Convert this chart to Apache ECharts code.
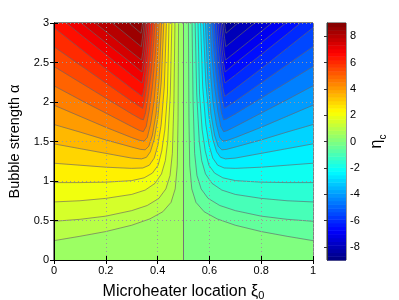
<!DOCTYPE html>
<html><head><meta charset="utf-8">
<script src="https://cdn.jsdelivr.net/npm/echarts@6/dist/echarts.min.js"></script>
<style>html,body{margin:0;padding:0;background:#fff}#c{width:399px;height:300px}</style>
</head><body><div id="c"></div>
<script>
// ---- data ----
const xTicks = [0, 0.2, 0.4, 0.6, 0.8, 1];
const yTicks = [0, 0.5, 1, 1.5, 2, 2.5, 3];
const cbTicks = [-8, -6, -4, -2, 0, 2, 4, 6, 8];
const levels = [0.5, 1, 1.5, 2, 2.5, 3, 3.5, 4, 4.5, 5, 5.5, 6, 6.5, 7, 7.5, 8, 8.5];
const peakLevel = 8.7;

// left half contour lines (eta_c = +level), points [xi0, alpha]
const c05 = [[0,0.245],[0.1,0.30],[0.2,0.36],[0.3,0.44],[0.37,0.52],[0.42,0.61],[0.452,0.73],[0.468,0.9],[0.476,1.2],[0.479,1.8],[0.481,3]];
const c10 = [[0,0.49],[0.1,0.515],[0.2,0.555],[0.3,0.625],[0.36,0.69],[0.405,0.78],[0.432,0.9],[0.448,1.07],[0.457,1.35],[0.463,2],[0.467,3]];
const c15 = [[0,0.735],[0.1,0.75],[0.2,0.78],[0.3,0.83],[0.352,0.885],[0.39,0.97],[0.415,1.09],[0.43,1.26],[0.439,1.5],[0.449,2.1],[0.455,3]];
const c20 = [[0,0.98],[0.1,0.98],[0.2,0.985],[0.3,1.005],[0.348,1.04],[0.38,1.1],[0.402,1.2],[0.416,1.38],[0.428,1.65],[0.438,2.1],[0.444,3]];
const c25 = [[0,1.225],[0.1,1.2],[0.2,1.175],[0.3,1.16],[0.343,1.165],[0.368,1.2],[0.387,1.29],[0.401,1.45],[0.414,1.72],[0.426,2.2],[0.434,3]];
const c30 = [[0,1.47],[0.1,1.41],[0.2,1.35],[0.3,1.29],[0.338,1.28],[0.357,1.3],[0.372,1.37],[0.387,1.53],[0.401,1.8],[0.414,2.25],[0.424,3]];
const c35 = [[0,1.715],[0.1,1.62],[0.2,1.52],[0.3,1.43],[0.335,1.4],[0.352,1.395],[0.366,1.44],[0.38,1.58],[0.394,1.85],[0.406,2.3],[0.415,3]];
const c40 = [[0,1.96],[0.1,1.82],[0.2,1.68],[0.3,1.55],[0.33,1.515],[0.348,1.505],[0.36,1.55],[0.373,1.72],[0.386,2.0],[0.398,2.45],[0.406,3]];
const c45 = [[0,2.205],[0.1,2.03],[0.2,1.86],[0.3,1.69],[0.33,1.64],[0.345,1.625],[0.356,1.69],[0.368,1.9],[0.38,2.2],[0.391,2.6],[0.398,3]];
const c50 = [[0,2.45],[0.1,2.25],[0.2,2.05],[0.3,1.85],[0.335,1.785],[0.345,1.775],[0.353,1.86],[0.364,2.08],[0.375,2.38],[0.384,2.72],[0.39,3]];
const c55 = [[0,2.70],[0.1,2.47],[0.2,2.24],[0.3,2.01],[0.342,1.92],[0.35,2.03],[0.36,2.25],[0.37,2.52],[0.377,2.78],[0.382,3]];
const c60 = [[0,2.94],[0.1,2.68],[0.2,2.42],[0.3,2.17],[0.341,2.07],[0.348,2.18],[0.357,2.4],[0.365,2.66],[0.37,2.85],[0.374,3]];
const c65 = [[0.048,3],[0.1,2.86],[0.2,2.6],[0.3,2.34],[0.34,2.24],[0.346,2.35],[0.354,2.55],[0.361,2.78],[0.367,3]];
const c70 = [[0.105,3],[0.2,2.75],[0.3,2.49],[0.339,2.38],[0.345,2.49],[0.351,2.66],[0.356,2.84],[0.36,3]];
const c75 = [[0.159,3],[0.25,2.76],[0.338,2.53],[0.343,2.63],[0.348,2.8],[0.354,3]];
const c80 = [[0.225,3],[0.3,2.80],[0.337,2.70],[0.341,2.8],[0.345,2.9],[0.348,3]];
const c85 = [[0.29,3],[0.336,2.87],[0.339,2.93],[0.342,3]];

// right half contour lines (eta_c = -level)
const r05 = [[1,0.245],[0.9,0.30],[0.8,0.36],[0.7,0.44],[0.63,0.52],[0.58,0.61],[0.548,0.73],[0.532,0.9],[0.524,1.2],[0.521,1.8],[0.519,3]];
const r10 = [[1,0.49],[0.9,0.515],[0.8,0.555],[0.7,0.625],[0.64,0.69],[0.595,0.78],[0.568,0.9],[0.552,1.07],[0.543,1.35],[0.537,2],[0.533,3]];
const r15 = [[1,0.735],[0.9,0.75],[0.8,0.78],[0.7,0.83],[0.648,0.885],[0.61,0.97],[0.585,1.09],[0.57,1.26],[0.561,1.5],[0.551,2.1],[0.545,3]];
const r20 = [[1,0.98],[0.9,0.98],[0.8,0.985],[0.7,1.005],[0.652,1.04],[0.62,1.1],[0.598,1.2],[0.584,1.38],[0.572,1.65],[0.562,2.1],[0.556,3]];
const r25 = [[1,1.225],[0.9,1.2],[0.8,1.175],[0.7,1.16],[0.657,1.165],[0.632,1.2],[0.613,1.29],[0.599,1.45],[0.586,1.72],[0.574,2.2],[0.566,3]];
const r30 = [[1,1.47],[0.9,1.41],[0.8,1.35],[0.7,1.29],[0.662,1.28],[0.643,1.3],[0.628,1.37],[0.613,1.53],[0.599,1.8],[0.586,2.25],[0.576,3]];
const r35 = [[1,1.715],[0.9,1.62],[0.8,1.52],[0.7,1.43],[0.665,1.4],[0.648,1.395],[0.634,1.44],[0.62,1.58],[0.606,1.85],[0.594,2.3],[0.585,3]];
const r40 = [[1,1.96],[0.9,1.82],[0.8,1.68],[0.7,1.55],[0.67,1.515],[0.652,1.505],[0.64,1.55],[0.627,1.72],[0.614,2.0],[0.602,2.45],[0.594,3]];
const r45 = [[1,2.205],[0.9,2.03],[0.8,1.86],[0.7,1.69],[0.67,1.64],[0.655,1.625],[0.644,1.69],[0.632,1.9],[0.62,2.2],[0.609,2.6],[0.602,3]];
const r50 = [[1,2.45],[0.9,2.25],[0.8,2.05],[0.7,1.85],[0.665,1.785],[0.655,1.775],[0.647,1.86],[0.636,2.08],[0.625,2.38],[0.616,2.72],[0.61,3]];
const r55 = [[1,2.70],[0.9,2.47],[0.8,2.24],[0.7,2.01],[0.658,1.92],[0.65,2.03],[0.64,2.25],[0.63,2.52],[0.623,2.78],[0.618,3]];
const r60 = [[1,2.94],[0.9,2.68],[0.8,2.42],[0.7,2.17],[0.659,2.07],[0.652,2.18],[0.643,2.4],[0.635,2.66],[0.63,2.85],[0.626,3]];
const r65 = [[0.952,3],[0.9,2.86],[0.8,2.6],[0.7,2.34],[0.66,2.24],[0.654,2.35],[0.646,2.55],[0.639,2.78],[0.633,3]];
const r70 = [[0.895,3],[0.8,2.75],[0.7,2.49],[0.661,2.38],[0.655,2.49],[0.649,2.66],[0.644,2.84],[0.64,3]];
const r75 = [[0.841,3],[0.75,2.76],[0.662,2.53],[0.657,2.63],[0.652,2.8],[0.646,3]];
const r80 = [[0.775,3],[0.7,2.80],[0.663,2.70],[0.659,2.8],[0.655,2.9],[0.652,3]];
const r85 = [[0.71,3],[0.664,2.87],[0.661,2.93],[0.658,3]];

const zeroLine = [[0.5,0],[0.5,3]];

const leftLines = [c05,c10,c15,c20,c25,c30,c35,c40,c45,c50,c55,c60,c65,c70,c75,c80,c85];
const rightLines = [r05,r10,r15,r20,r25,r30,r35,r40,r45,r50,r55,r60,r65,r70,r75,r80,r85];

// ---- colour map (jet, -9..9) ----
function clamp(v){return Math.max(0,Math.min(1,v));}
function jet(v){
  const f=(v+9)/18;
  const r=clamp(Math.min(4*f-1.5,-4*f+4.5)), g=clamp(Math.min(4*f-0.5,-4*f+3.5)), b=clamp(Math.min(4*f+0.5,-4*f+2.5));
  return 'rgb('+Math.round(r*255)+','+Math.round(g*255)+','+Math.round(b*255)+')';
}

// filled bands (painter's order); each band takes the colour of its upper level
const polys = [];
polys.push({pts:[[0,0],[0.5,0],[0.5,3],[0,3]], color: jet(levels[0])});
polys.push({pts:[[0.5,0],[1,0],[1,3],[0.5,3]], color: jet(0)});
leftLines.forEach((ln,i)=>{
  const pts = ln.slice(); if (ln[0][0]===0) pts.push([0,3]);
  const up = i+1<levels.length ? levels[i+1] : peakLevel;
  polys.push({pts, color: jet(up)});
});
rightLines.forEach((ln,i)=>{
  const pts = ln.slice(); if (ln[0][0]===1) pts.push([1,3]);
  polys.push({pts, color: jet(-levels[i])});
});

// colorbar cells (64-step jet)
const cbCells = [];
for (let i=0;i<64;i++){ const v0=-9+i*18/64, v1=v0+18/64; cbCells.push([v0,v1]); }

const FONT = 'Liberation Sans';
const series = [];
series.push({
  type:'custom', xAxisIndex:0, yAxisIndex:0, clip:true, silent:true, z:1,
  data: polys.map((p,i)=>[0.5,1.5,i]),
  renderItem:(params, api)=>{
    const p = polys[params.dataIndex];
    return {type:'polygon', shape:{points:p.pts.map(q=>api.coord(q))}, style:{fill:p.color, stroke:p.color, lineWidth:0.6}};
  }
});
leftLines.concat(rightLines).forEach(ln=>{
  series.push({type:'line', xAxisIndex:0, yAxisIndex:0, data:ln, showSymbol:false, silent:true, z:3,
    lineStyle:{color:'#686868', width:0.65}, animation:false});
});
series.push({type:'line', xAxisIndex:0, yAxisIndex:0, data:zeroLine, showSymbol:false, silent:true, z:3,
  lineStyle:{color:'#767676', width:1}, animation:false});
series.push({
  type:'custom', xAxisIndex:2, yAxisIndex:2, silent:true,
  data: cbCells.map((c,i)=>[0.5,c[0],i]),
  renderItem:(params, api)=>{
    const c = cbCells[params.dataIndex];
    const p0 = api.coord([0,c[0]]), p1 = api.coord([1,c[1]]);
    return {type:'rect', shape:{x:p0[0], y:p1[1], width:p1[0]-p0[0], height:p0[1]-p1[1]+0.5}, style:{fill:jet((c[0]+c[1])/2)}};
  }
});

const tickLbl = {color:'#000', fontSize:11, fontFamily:FONT};
const option = {
  animation:false,
  backgroundColor:'#fff',
  grid:[
    {left:54, top:23, width:259, height:237, show:true, borderColor:'#000', borderWidth:1, containLabel:false, outerBoundsMode:'none'},
    {left:327, top:23, width:19, height:237, show:true, borderColor:'#333', borderWidth:1, containLabel:false, outerBoundsMode:'none'}
  ],
  xAxis:[
    {type:'value', gridIndex:0, min:0, max:1, interval:0.2, position:'bottom', z:10,
     axisLine:{show:true, lineStyle:{color:'#000'}}, axisTick:{show:true, inside:true, length:4, lineStyle:{color:'#000'}},
     axisLabel:Object.assign({margin:5, customValues:xTicks}, tickLbl),
     splitLine:{show:true, lineStyle:{type:[1,3], color:'#9a9a9a', width:1}},
     name:'Microheater location ξ{s|0}', nameLocation:'middle', nameGap:15,
     nameTextStyle:{fontSize:16, fontFamily:FONT, color:'#000', lineHeight:21, rich:{s:{fontSize:11, fontFamily:FONT, lineHeight:10, verticalAlign:'bottom', color:'#000'}}}},
    {type:'value', gridIndex:0, min:0, max:1, interval:0.2, position:'top', z:10,
     axisLine:{show:true, lineStyle:{color:'#000'}}, axisTick:{show:true, inside:true, length:4, lineStyle:{color:'#000'}},
     axisLabel:{show:false}, splitLine:{show:false}},
    {type:'value', gridIndex:1, min:0, max:1, show:false},
  ],
  yAxis:[
    {type:'value', gridIndex:0, min:0, max:3, interval:0.5, position:'left', z:10,
     axisLine:{show:true, lineStyle:{color:'#000'}}, axisTick:{show:true, inside:true, length:4, lineStyle:{color:'#000'}},
     axisLabel:Object.assign({margin:5, customValues:yTicks}, tickLbl),
     splitLine:{show:true, lineStyle:{type:[1,3], color:'#9a9a9a', width:1}},
     name:'Bubble strength α', nameLocation:'middle', nameGap:28, nameRotate:90,
     nameTextStyle:{fontSize:14.5, fontFamily:FONT, color:'#000'}},
    {type:'value', gridIndex:0, min:0, max:3, interval:0.5, position:'right', z:10,
     axisLine:{show:true, lineStyle:{color:'#000'}}, axisTick:{show:true, inside:true, length:4, lineStyle:{color:'#000'}},
     axisLabel:{show:false}, splitLine:{show:false}},
    {type:'value', gridIndex:1, min:-9, max:9, position:'right', z:10,
     axisLine:{show:true, lineStyle:{color:'#333'}},
     axisTick:{show:true, inside:true, length:3, customValues:cbTicks, lineStyle:{color:'#333'}},
     axisLabel:Object.assign({margin:4, customValues:cbTicks}, tickLbl),
     splitLine:{show:false},
     name:'{e|η}{s|c}', nameLocation:'middle', nameGap:20, nameRotate:90,
     nameTextStyle:{fontFamily:FONT, color:'#000', lineHeight:22, rich:{e:{fontSize:16, fontFamily:FONT, lineHeight:22, color:'#000'}, s:{fontSize:10, fontFamily:FONT, lineHeight:10, verticalAlign:'bottom', color:'#000'}}}}
  ],
  series
};
const chart = echarts.init(document.getElementById('c'), null, {renderer:'canvas'});
chart.setOption(option);
</script></body></html>
